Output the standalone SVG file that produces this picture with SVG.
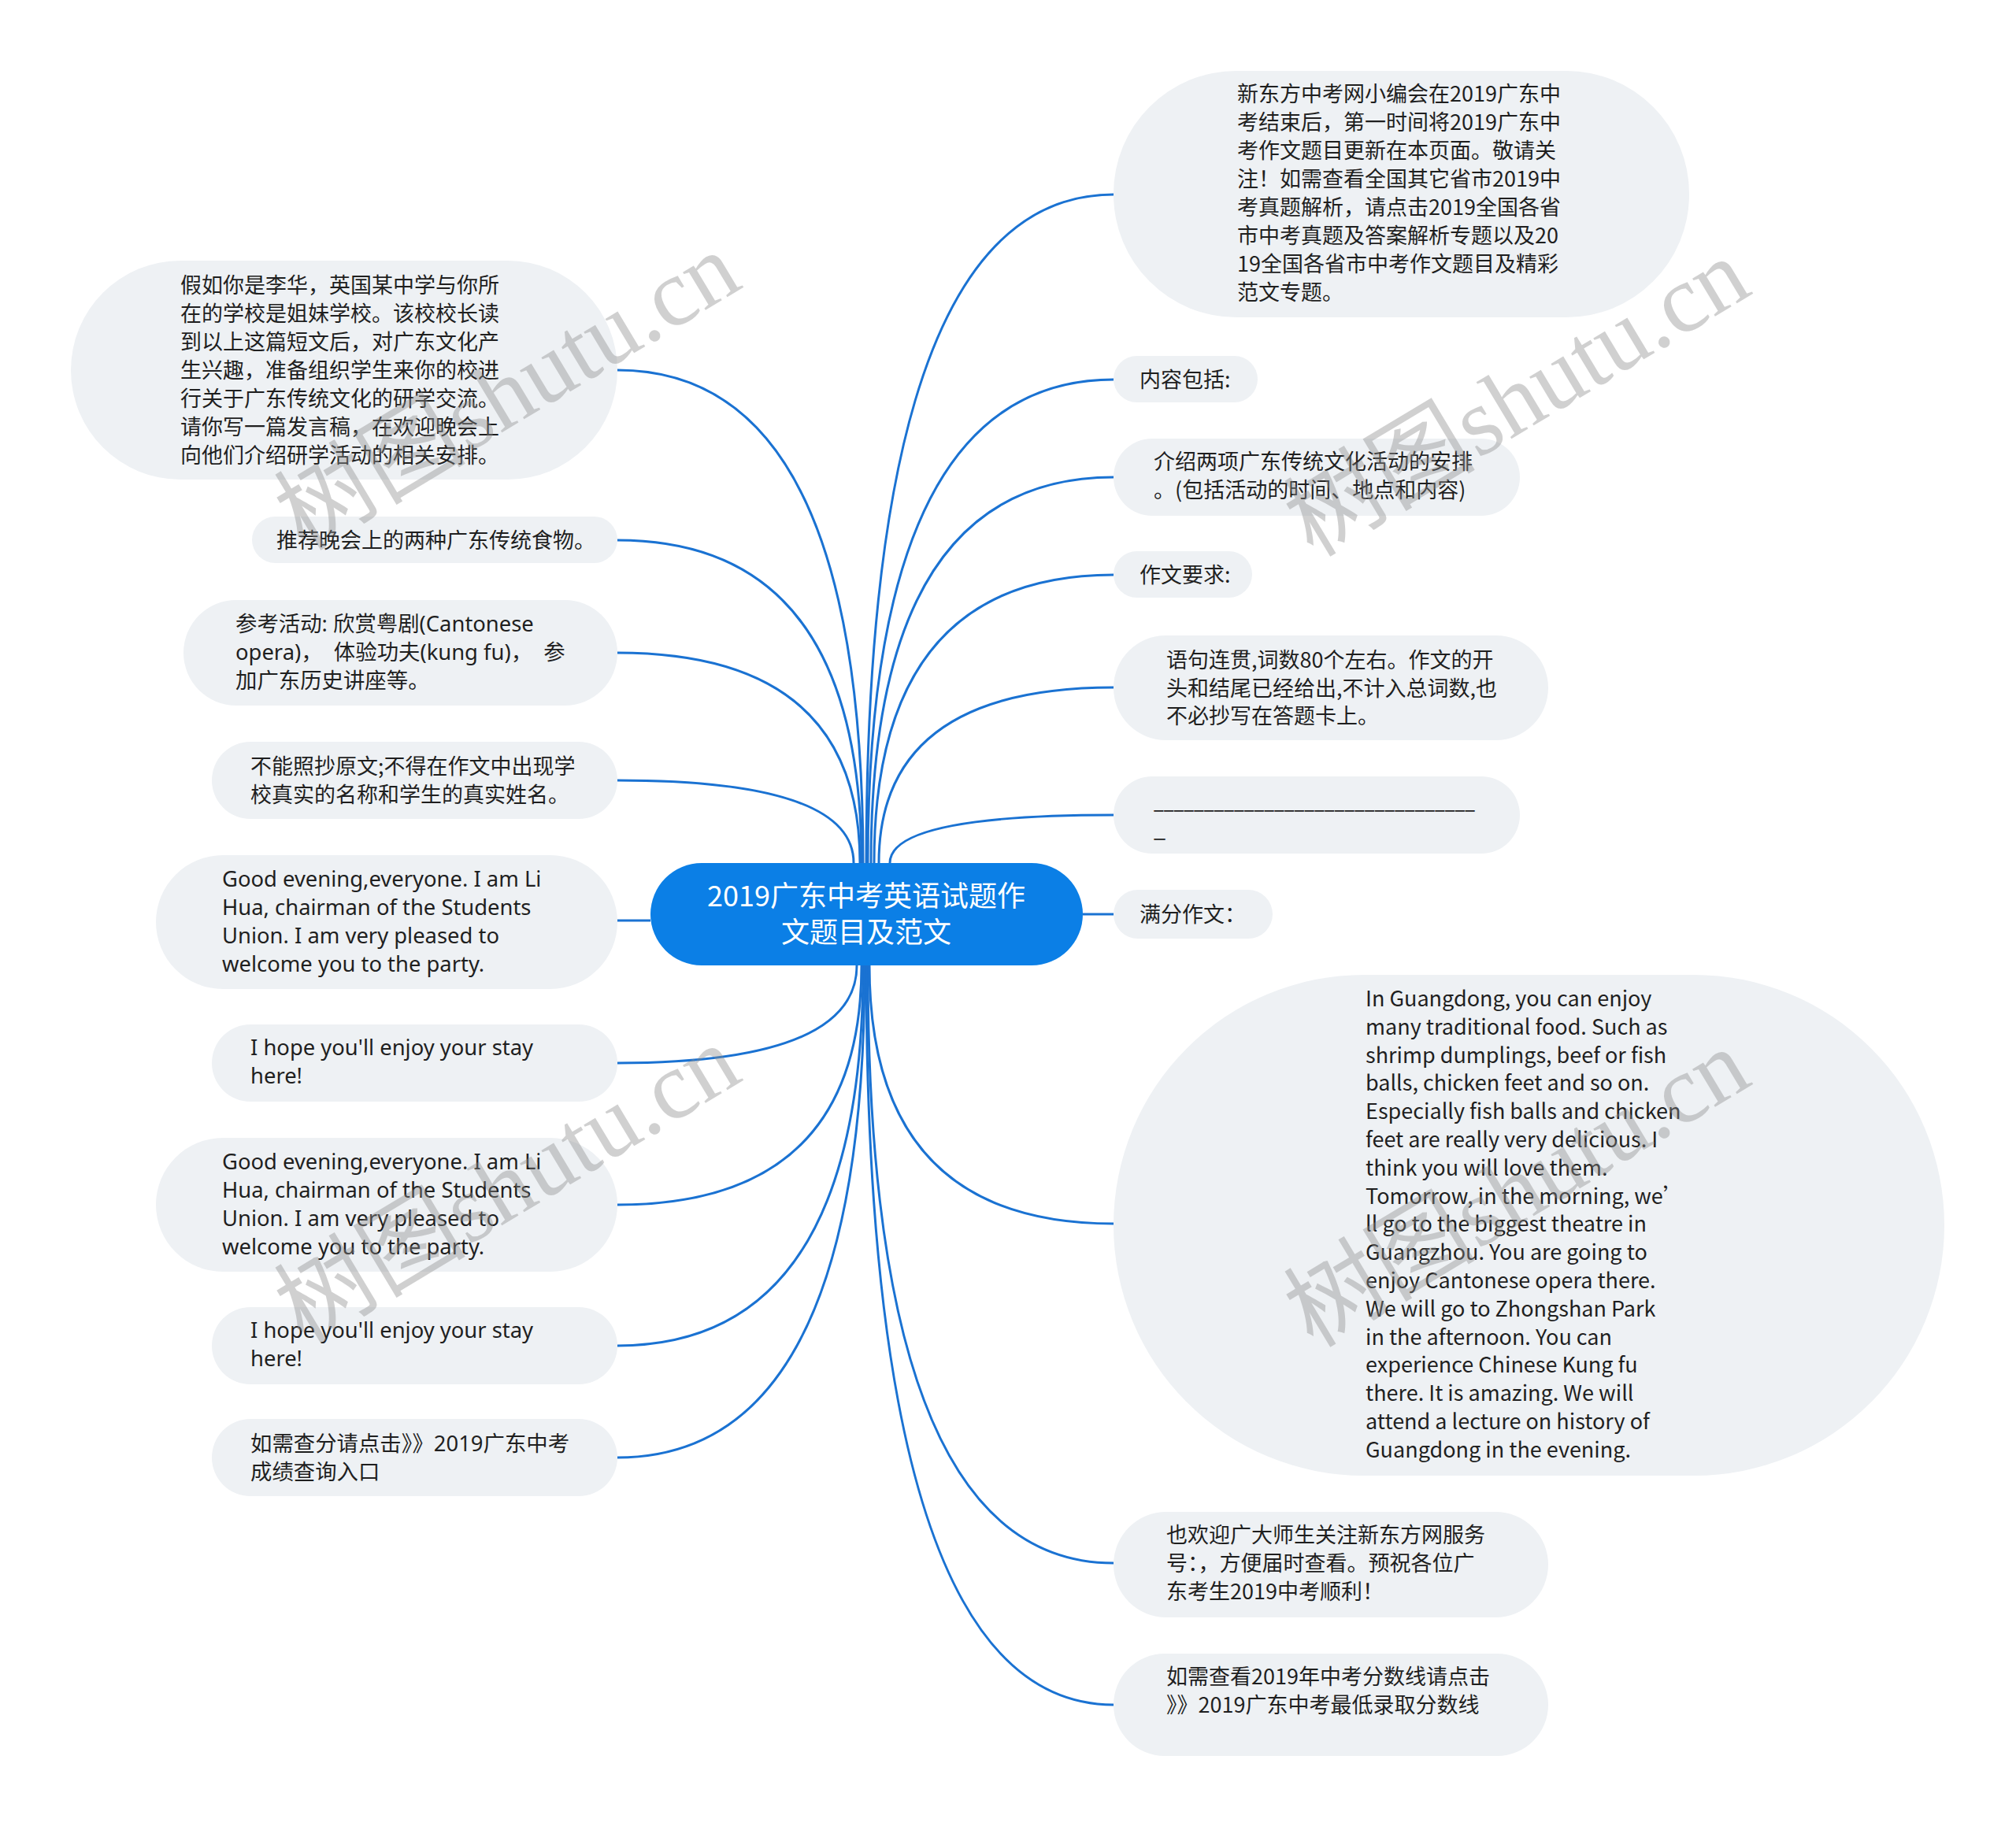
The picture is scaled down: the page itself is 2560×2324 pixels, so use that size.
<svg xmlns="http://www.w3.org/2000/svg" width="2560" height="2324" viewBox="0 0 2560 2324">
<style>
.bg{fill:#ffffff}
.node{fill:#eef1f4}
.root{fill:#0b7fe6}
.t{font-family:"Noto Sans CJK SC","Noto Sans",sans-serif;font-size:27px;fill:#1f1f1f}
.e{font-family:"Noto Sans","Noto Sans CJK SC",sans-serif;font-size:27.4px;fill:#1f1f1f}
.rt{font-family:"Noto Sans CJK SC","Noto Sans",sans-serif;font-size:36px;fill:#ffffff;text-anchor:middle}
.c{fill:none;stroke:#1a72d2;stroke-width:3}
.wm{font-family:"Liberation Serif","Noto Sans CJK SC",serif;font-size:122px;fill:#8c8c8c;opacity:0.4;text-anchor:middle}
</style>
<rect class="bg" x="0" y="0" width="2560" height="2324"/>
<g id="connectors">
<path class="c" d="M1414 247 Q1100 247 1100 1096"/>
<path class="c" d="M1414 482 Q1102 482 1102 1096"/>
<path class="c" d="M1414 606 Q1106 606 1106 1096"/>
<path class="c" d="M1414 730 Q1110 730 1110 1096"/>
<path class="c" d="M1414 873 Q1116 873 1116 1096"/>
<path class="c" d="M1414 1035 Q1130 1035 1130 1096"/>
<path class="c" d="M1375 1161 L1414 1161"/>
<path class="c" d="M1414 1554 Q1104 1554 1104 1226"/>
<path class="c" d="M1414 1985 Q1102 1985 1102 1226"/>
<path class="c" d="M1414 2165 Q1100 2165 1100 1226"/>
<path class="c" d="M784 470 Q1096 470 1096 1096"/>
<path class="c" d="M784 686 Q1094 686 1094 1096"/>
<path class="c" d="M784 829 Q1092 829 1092 1096"/>
<path class="c" d="M784 991 Q1084 991 1084 1096"/>
<path class="c" d="M826 1169 L784 1169"/>
<path class="c" d="M784 1350 Q1088 1350 1088 1226"/>
<path class="c" d="M784 1530 Q1094 1530 1094 1226"/>
<path class="c" d="M784 1709 Q1096 1709 1096 1226"/>
<path class="c" d="M784 1851 Q1098 1851 1098 1226"/>
</g>
<g id="root">
<rect class="root" x="826" y="1096" width="549" height="130" rx="65"/>
<text class="rt" x="1100" y="1151">2019广东中考英语试题作</text>
<text class="rt" x="1100" y="1197">文题目及范文</text>
</g>
<g id="r1">
<rect class="node" x="1414" y="90" width="731" height="313" rx="156"/>
<text class="t"><tspan x="1571" y="129">新东方中考网小编会在2019广东中</tspan><tspan x="1571" y="165">考结束后，第一时间将2019广东中</tspan><tspan x="1571" y="201">考作文题目更新在本页面。敬请关</tspan><tspan x="1571" y="237">注！如需查看全国其它省市2019中</tspan><tspan x="1571" y="273">考真题解析，请点击2019全国各省</tspan><tspan x="1571" y="309">市中考真题及答案解析专题以及20</tspan><tspan x="1571" y="345">19全国各省市中考作文题目及精彩</tspan><tspan x="1571" y="381">范文专题。</tspan></text>
</g>
<g id="r2">
<rect class="node" x="1414" y="452" width="183" height="59" rx="29.5"/>
<text class="t" x="1447" y="492">内容包括:</text>
</g>
<g id="r3">
<rect class="node" x="1414" y="557" width="516" height="98" rx="49"/>
<text class="t"><tspan x="1465" y="596">介绍两项广东传统文化活动的安排</tspan><tspan x="1465" y="632">。(包括活动的时间、地点和内容)</tspan></text>
</g>
<g id="r4">
<rect class="node" x="1414" y="700" width="176" height="59" rx="29.5"/>
<text class="t" x="1447" y="740">作文要求:</text>
</g>
<g id="r5">
<rect class="node" x="1414" y="807" width="552" height="133" rx="66.5"/>
<text class="t"><tspan x="1481" y="848">语句连贯,词数80个左右。作文的开</tspan><tspan x="1481" y="884">头和结尾已经给出,不计入总词数,也</tspan><tspan x="1481" y="919">不必抄写在答题卡上。</tspan></text>
</g>
<g id="r6">
<rect class="node" x="1414" y="986" width="516" height="98" rx="49"/>
<text class="t"><tspan x="1465" y="1027" textLength="408" lengthAdjust="spacingAndGlyphs">________________________________</tspan><tspan x="1465" y="1063">_</tspan></text>
</g>
<g id="r7">
<rect class="node" x="1414" y="1130" width="202" height="62" rx="31"/>
<text class="t" x="1447" y="1171">满分作文：</text>
</g>
<g id="r8">
<rect class="node" x="1414" y="1238" width="1055" height="636" rx="318"/>
<text class="t"><tspan x="1734" y="1278">In Guangdong, you can enjoy</tspan><tspan x="1734" y="1314">many traditional food. Such as</tspan><tspan x="1734" y="1350">shrimp dumplings, beef or fish</tspan><tspan x="1734" y="1385">balls, chicken feet and so on.</tspan><tspan x="1734" y="1421">Especially fish balls and chicken</tspan><tspan x="1734" y="1457">feet are really very delicious. I</tspan><tspan x="1734" y="1493">think you will love them.</tspan><tspan x="1734" y="1529">Tomorrow, in the morning, we’</tspan><tspan x="1734" y="1564">ll go to the biggest theatre in</tspan><tspan x="1734" y="1600">Guangzhou. You are going to</tspan><tspan x="1734" y="1636">enjoy Cantonese opera there.</tspan><tspan x="1734" y="1672">We will go to Zhongshan Park</tspan><tspan x="1734" y="1708">in the afternoon. You can</tspan><tspan x="1734" y="1743">experience Chinese Kung fu</tspan><tspan x="1734" y="1779">there. It is amazing. We will</tspan><tspan x="1734" y="1815">attend a lecture on history of</tspan><tspan x="1734" y="1851">Guangdong in the evening.</tspan></text>
</g>
<g id="r9">
<rect class="node" x="1414" y="1920" width="552" height="134" rx="67"/>
<text class="t"><tspan x="1481" y="1959">也欢迎广大师生关注新东方网服务</tspan><tspan x="1481" y="1995">号：，方便届时查看。预祝各位广</tspan><tspan x="1481" y="2031">东考生2019中考顺利！</tspan></text>
</g>
<g id="r10">
<rect class="node" x="1414" y="2100" width="552" height="130" rx="65"/>
<text class="t"><tspan x="1481" y="2139">如需查看2019年中考分数线请点击</tspan><tspan x="1481" y="2175">》》2019广东中考最低录取分数线</tspan></text>
</g>
<g id="l1">
<rect class="node" x="90" y="331" width="694" height="278" rx="139"/>
<text class="t"><tspan x="229" y="372">假如你是李华，英国某中学与你所</tspan><tspan x="229" y="408">在的学校是姐妹学校。该校校长读</tspan><tspan x="229" y="444">到以上这篇短文后，对广东文化产</tspan><tspan x="229" y="480">生兴趣，准备组织学生来你的校进</tspan><tspan x="229" y="516">行关于广东传统文化的研学交流。</tspan><tspan x="229" y="552">请你写一篇发言稿，在欢迎晚会上</tspan><tspan x="229" y="588">向他们介绍研学活动的相关安排。</tspan></text>
</g>
<g id="l2">
<rect class="node" x="320" y="656" width="464" height="59" rx="29.5"/>
<text class="t" x="351" y="696">推荐晚会上的两种广东传统食物。</text>
</g>
<g id="l3">
<rect class="node" x="233" y="762" width="551" height="134" rx="67"/>
<text class="e" xml:space="preserve"><tspan x="299" y="802">参考活动: 欣赏粤剧(Cantonese</tspan><tspan x="299" y="838">opera)，  体验功夫(kung fu)，  参</tspan><tspan x="299" y="874">加广东历史讲座等。</tspan></text>
</g>
<g id="l4">
<rect class="node" x="269" y="942" width="515" height="98" rx="49"/>
<text class="t"><tspan x="318" y="983">不能照抄原文;不得在作文中出现学</tspan><tspan x="318" y="1019">校真实的名称和学生的真实姓名。</tspan></text>
</g>
<g id="l5">
<rect class="node" x="198" y="1086" width="586" height="170" rx="85"/>
<text class="e"><tspan x="282" y="1126">Good evening,everyone. I am Li</tspan><tspan x="282" y="1162">Hua, chairman of the Students</tspan><tspan x="282" y="1198">Union. I am very pleased to</tspan><tspan x="282" y="1234">welcome you to the party.</tspan></text>
</g>
<g id="l6">
<rect class="node" x="269" y="1301" width="515" height="98" rx="49"/>
<text class="e"><tspan x="318" y="1340">I hope you'll enjoy your stay</tspan><tspan x="318" y="1376">here!</tspan></text>
</g>
<g id="l7">
<rect class="node" x="198" y="1445" width="586" height="170" rx="85"/>
<text class="e"><tspan x="282" y="1485">Good evening,everyone. I am Li</tspan><tspan x="282" y="1521">Hua, chairman of the Students</tspan><tspan x="282" y="1557">Union. I am very pleased to</tspan><tspan x="282" y="1593">welcome you to the party.</tspan></text>
</g>
<g id="l8">
<rect class="node" x="269" y="1660" width="515" height="98" rx="49"/>
<text class="e"><tspan x="318" y="1699">I hope you'll enjoy your stay</tspan><tspan x="318" y="1735">here!</tspan></text>
</g>
<g id="l9">
<rect class="node" x="269" y="1802" width="515" height="98" rx="49"/>
<text class="e"><tspan x="318" y="1843">如需查分请点击》》2019广东中考</tspan><tspan x="318" y="1879">成绩查询入口</tspan></text>
</g>
<g id="watermarks">
<text class="wm" transform="translate(645 498) rotate(-31)" y="40">树图shutu.cn</text>
<text class="wm" transform="translate(1927 506) rotate(-31)" y="40">树图shutu.cn</text>
<text class="wm" transform="translate(645 1505) rotate(-31)" y="40">树图shutu.cn</text>
<text class="wm" transform="translate(1927 1510) rotate(-31)" y="40">树图shutu.cn</text>
</g>
</svg>
